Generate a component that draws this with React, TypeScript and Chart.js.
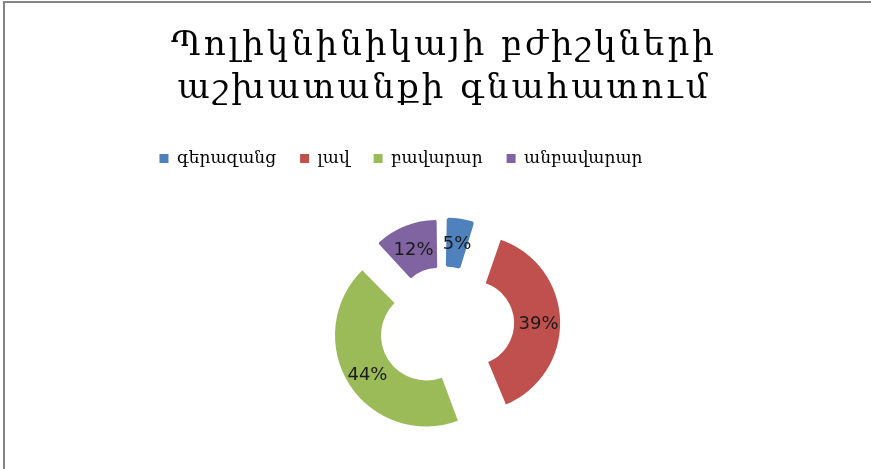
import React, { useEffect, useRef } from "react";
import { Chart, registerables } from "chart.js";

Chart.register(...registerables);

const titleLines = ["Պոլիկնինիկայի բժիշկների", "աշխատանքի գնահատում"];
const categories = ["գերազանց", "լավ", "բավարար", "անբավարար"];
const shares = [5, 39, 44, 12];
const percentLabels = ["5%", "39%", "44%", "12%"];
const sliceColors = ["#4F81BD", "#C0504D", "#9BBB59", "#8064A2"];

// placement helpers (style only)
const CENTER_X = 444;
const CENTER_Y = 324;
const AREA_HALF = 144;
const LEGEND_TOP = 126;
const LEGEND_SHIFT_X = -43;
const TITLE_LETTER_SPACING = "3px";
const LABEL_DY = 3;

const layoutPlugin = {
  id: "layoutTweaks",
  afterLayout(chart: any) {
    chart.chartArea = {
      left: CENTER_X - AREA_HALF,
      right: CENTER_X + AREA_HALF,
      top: CENTER_Y - AREA_HALF,
      bottom: CENTER_Y + AREA_HALF,
      width: AREA_HALF * 2,
      height: AREA_HALF * 2,
    };
    const lg = chart.legend;
    if (lg) {
      const dy = LEGEND_TOP - lg.top;
      lg.top += dy;
      lg.bottom += dy;
      lg.left += LEGEND_SHIFT_X;
      lg.right += LEGEND_SHIFT_X;
    }
    const tb = chart.titleBlock;
    if (tb && !tb.__spaced) {
      const orig = tb.draw.bind(tb);
      tb.draw = (...args: any[]) => {
        const c = tb.ctx;
        const prev = c.letterSpacing;
        c.letterSpacing = TITLE_LETTER_SPACING;
        orig(...args);
        c.letterSpacing = prev || "0px";
      };
      tb.__spaced = true;
    }
  },
};

const sliceLabelPlugin = {
  id: "sliceLabels",
  afterDatasetsDraw(chart: any) {
    const meta = chart.getDatasetMeta(0);
    const ctx = chart.ctx;
    ctx.save();
    ctx.letterSpacing = "0px";
    ctx.font = "18px 'DejaVu Sans'";
    ctx.fillStyle = "#1a1a1a";
    ctx.textAlign = "center";
    ctx.textBaseline = "middle";
    meta.data.forEach((arc: any, i: number) => {
      const p = arc.getProps(["x", "y", "startAngle", "endAngle", "innerRadius", "outerRadius", "circumference"], true);
      const mid = (p.startAngle + p.endAngle) / 2;
      const shift = (arc.options.offset || 0) / 4;
      const fix = 1 - Math.sin(Math.min(Math.PI, p.circumference || 0));
      const grow = shift * fix;
      const rin = p.innerRadius + grow;
      const rout = p.outerRadius + grow;
      const rr = shift + rin + (rout - rin) * 0.53;
      ctx.fillText(percentLabels[i], p.x + Math.cos(mid) * rr, p.y + Math.sin(mid) * rr + LABEL_DY);
    });
    ctx.restore();
  },
};

export default function App() {
  const ref = useRef<HTMLCanvasElement | null>(null);
  useEffect(() => {
    if (!ref.current) return;
    const defaultLabels = (Chart as any).overrides.doughnut.plugins.legend.labels.generateLabels;
    const chart = new Chart(ref.current, {
      type: "doughnut",
      data: {
        labels: categories,
        datasets: [
          {
            data: shares,
            backgroundColor: sliceColors,
            borderColor: sliceColors,
            borderWidth: [3, 0, 0, 2],
            offset: [64, 112, 84, 80],
          },
        ],
      },
      options: {
        responsive: false,
        animation: false,
        radius: 78,
        cutout: "41%",
        rotation: 0,
        layout: { padding: { left: 17, right: 0, top: 0, bottom: 0 } },
        plugins: {
          tooltip: { enabled: false },
          title: {
            display: true,
            text: titleLines,
            color: "#000",
            font: { family: "'DejaVu Serif'", size: 34, weight: "normal", lineHeight: 1.28 },
            padding: { top: 24, bottom: 8 },
          },
          legend: {
            display: true,
            position: "top",
            labels: {
              color: "#000",
              font: { family: "'DejaVu Serif'", size: 17 },
              boxWidth: 9,
              boxHeight: 9,
              padding: 24,
              generateLabels: (c: any) =>
                defaultLabels(c).map((l: any) => ({ ...l, lineWidth: 0, strokeStyle: l.fillStyle })),
            },
          },
        },
      },
      plugins: [layoutPlugin, sliceLabelPlugin],
    } as any);
    return () => chart.destroy();
  }, []);

  return (
    <div style={{ position: "fixed", left: 0, top: 0, width: 871, height: 469, background: "#fff", overflow: "hidden" }}>
      <div
        style={{
          position: "absolute",
          left: 3,
          top: 1,
          width: 900,
          height: 500,
          borderTop: "2px solid #858585",
          borderLeft: "2px solid #858585",
        }}
      />
      <canvas ref={ref} width={871} height={469} style={{ position: "absolute", left: 0, top: 0, width: 871, height: 469 }} />
    </div>
  );
}
